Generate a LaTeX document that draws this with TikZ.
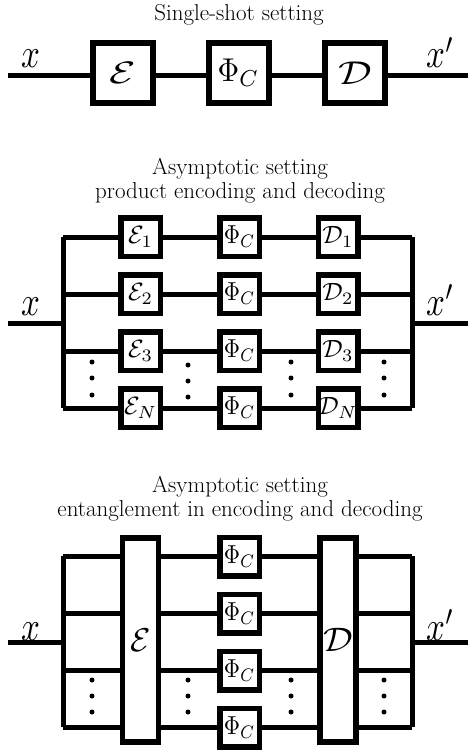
\documentclass[tikz,border=0pt]{standalone}
\usepackage{graphicx}
\DeclareMathSizes{10}{10}{7.5}{5}
\newcommand\lab[3]{\scalebox{#1}[#2]{$#3$}}
\newcommand\xlab[1]{\lab{3.3}{4.1}{#1}}
\newcommand\midcal[1]{\lab{2.55}{2.5}{#1}}
\newcommand\midphi{\lab{2.25}{2.6}{\Phi_C}}
\tikzset{
  wire/.style={line width=5pt},
  bigbox/.style={draw, line width=6pt, fill=white, minimum width=60pt, minimum height=60pt, inner sep=0pt},
  smallbox/.style={draw, line width=5.5pt, fill=white, minimum width=39.5pt, minimum height=38.5pt, inner sep=0pt},
  tallbox/.style={draw, line width=5.5pt, fill=white, minimum width=36pt, minimum height=204pt, inner sep=0pt},
  ttl/.style={font=\fontsize{23}{24}\selectfont, align=center, inner sep=0pt},
  lbl/.style={inner sep=0pt, anchor=base west},
  dot/.style={circle, fill=black, inner sep=0pt, minimum size=5pt},
}
\begin{document}
\begin{tikzpicture}[x=1pt,y=-1pt]
\useasboundingbox (0,0) rectangle (468,751);
% ---------------- Single-shot ----------------
\node[ttl] (t1) at (239,15) {Single-shot setting};
\coordinate (in1) at (8,76);
\coordinate (out1) at (468,76);
\draw[wire] (in1) -- (out1);
\node[bigbox] (E) at (123,73) {\lab{4.3}{3.1}{\mathcal{E}}};
\node[bigbox] (P) at (238.5,73) {\lab{3.0}{3.3}{\Phi_C}};
\node[bigbox] (D) at (355,73) {\lab{4.2}{3.3}{\mathcal{D}}};
\node[lbl] (x1) at (21,68) {\xlab{x}};
\node[lbl] (y1) at (426,68) {\xlab{x'}};
% ---------------- Product ----------------
\node[ttl] (t2) at (240,181) {Asymptotic setting\\product encoding and decoding};
\coordinate (in2) at (8,323);
\coordinate (L2) at (63,323);
\coordinate (R2) at (412,323);
\coordinate (out2) at (468,323);
\foreach \i/\y in {1/237,2/294,3/351,4/408}{
  \coordinate (la\i) at (63,\y);
  \coordinate (ra\i) at (412,\y);
}
\draw[wire] (in2) -- (L2);
\draw[wire] (R2) -- (out2);
\draw[wire] (la1) -- (la4);
\draw[wire] (ra1) -- (ra4);
\foreach \i in {1,2,3,4}{ \draw[wire] (la\i) -- (ra\i); }
\node[smallbox] (E1) at (140.5,237) {\midcal{\mathcal{E}_1}};
\node[smallbox] (E2) at (140.5,294) {\midcal{\mathcal{E}_2}};
\node[smallbox] (E3) at (140.5,351) {\midcal{\mathcal{E}_3}};
\node[smallbox] (EN) at (140.5,408) {\midcal{\mathcal{E}_N}};
\node[smallbox] (P1) at (239.5,237) {\midphi};
\node[smallbox] (P2) at (239.5,294) {\midphi};
\node[smallbox] (P3) at (239.5,351) {\midphi};
\node[smallbox] (PN) at (239.5,408) {\midphi};
\node[smallbox] (D1) at (338,237) {\midcal{\mathcal{D}_1}};
\node[smallbox] (D2) at (338,294) {\midcal{\mathcal{D}_2}};
\node[smallbox] (D3) at (338,351) {\midcal{\mathcal{D}_3}};
\node[smallbox] (DN) at (338,408) {\midcal{\mathcal{D}_N}};
\foreach \x/\a/\b/\c [count=\k] in {92/362/378/395, 188/365/381/397, 291/362/378/395, 384/362/378/395}{
  \node[dot] (da\k) at (\x,\a) {};
  \node[dot] (db\k) at (\x,\b) {};
  \node[dot] (dc\k) at (\x,\c) {};
}
\node[lbl] (x2) at (21,315) {\xlab{x}};
\node[lbl] (y2) at (426,315) {\xlab{x'}};
% ---------------- Entangled ----------------
\node[ttl] (t3) at (240,499) {Asymptotic setting\\entanglement in encoding and decoding};
\coordinate (in3) at (8,642);
\coordinate (L3) at (63,642);
\coordinate (R3) at (412,642);
\coordinate (out3) at (468,642);
\foreach \i/\y in {1/556,2/613,3/670,4/727}{
  \coordinate (lb\i) at (63,\y);
  \coordinate (rb\i) at (412,\y);
}
\draw[wire] (in3) -- (L3);
\draw[wire] (R3) -- (out3);
\draw[wire] (lb1) -- (lb4);
\draw[wire] (rb1) -- (rb4);
\foreach \i in {1,2,3,4}{ \draw[wire] (lb\i) -- (rb\i); }
\node[tallbox] (EE) at (140.5,640) {\lab{3.3}{3.3}{\mathcal{E}}};
\node[tallbox] (DD) at (338,640) {\lab{3.7}{3.4}{\mathcal{D}}};
\node[smallbox] (Q1) at (239.5,556.5) {\midphi};
\node[smallbox] (Q2) at (239.5,613.5) {\midphi};
\node[smallbox] (Q3) at (239.5,670.5) {\midphi};
\node[smallbox] (Q4) at (239.5,727.5) {\midphi};
\foreach \x [count=\k] in {92,188,291,384}{
  \node[dot] (ea\k) at (\x,680) {};
  \node[dot] (eb\k) at (\x,696) {};
  \node[dot] (ec\k) at (\x,712) {};
}
\node[lbl] (x3) at (21,640) {\xlab{x}};
\node[lbl] (y3) at (426,640) {\xlab{x'}};
\end{tikzpicture}
\end{document}
